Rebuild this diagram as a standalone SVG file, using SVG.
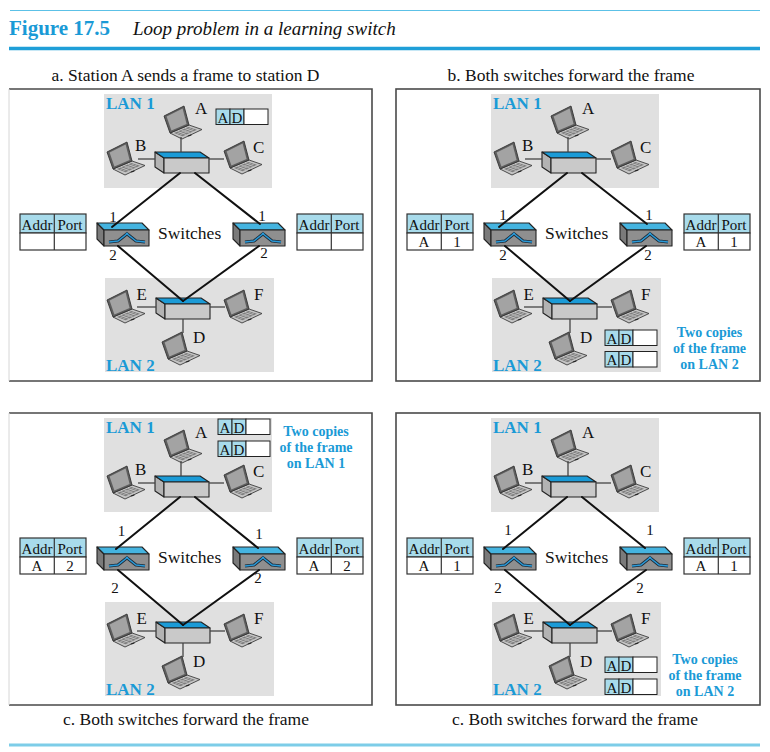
<svg xmlns="http://www.w3.org/2000/svg" xmlns:xlink="http://www.w3.org/1999/xlink" width="770" height="752" viewBox="0 0 770 752">
<style>
text{font-family:"Liberation Serif","Times New Roman",serif;fill:#111}
.lan{fill:#e0e0e0}
.lbl{font-size:17px}
.lanl{font-weight:bold;font-size:17px;fill:#1a9ad6}
.port{font-size:15px;text-anchor:middle}
.tt{font-size:15px;text-anchor:middle}
.ft{font-size:15px;text-anchor:middle}
.sw{font-size:17.5px}
.cap{font-size:17.5px;text-anchor:middle}
.note{font-weight:bold;font-size:14px;fill:#1a9ad6;text-anchor:middle}
.link{stroke:#111;stroke-width:2;fill:none;stroke-linecap:round}
.wire{stroke:#444;stroke-width:1.3;fill:none}
.thead{fill:#a8dbeb;stroke:#333;stroke-width:1.2}
.tbody{fill:#fff;stroke:#333;stroke-width:1.2}
.cell{fill:#a8dbeb;stroke:#222;stroke-width:1}
.blank{fill:#fff;stroke:#222;stroke-width:1}
.edge{stroke:#222;stroke-width:1.1;stroke-linejoin:round}
.box{fill:none;stroke:#4a4a4a;stroke-width:1.6}
.boxl{fill:none;stroke:#d6d6d6;stroke-width:1}
</style>
<defs>
<g id="laptop">
<polygon points="6,27 25,19 38,23.5 18,33" fill="#c4c4c4" stroke="#3c3c3c" stroke-width="0.9" stroke-linejoin="round"/>
<polygon points="10,27 24.5,21 33,23.8 18.5,30.2" fill="#7d7d7d"/>
<g stroke="#cfcfcf" stroke-width="0.6">
<line x1="12.8" y1="28.1" x2="27.3" y2="21.9"/>
<line x1="15.6" y1="29.1" x2="30.1" y2="22.9"/>
<line x1="13.6" y1="25.5" x2="22.1" y2="28.6"/>
<line x1="17.3" y1="24" x2="25.8" y2="27"/>
<line x1="20.9" y1="22.5" x2="29.4" y2="25.4"/>
</g>
<polygon points="23.5,29.8 26.5,28.5 27.8,29.2 24.8,30.6" fill="#222"/>
<polygon points="0,10 20,0 25,19 6,27" fill="#5e5e5e" stroke="#333" stroke-width="0.9" stroke-linejoin="round"/>
<polygon points="2.6,10.6 18.6,2.6 22.6,18 7.4,24.6" fill="#a3a3a3"/>
</g>
<g id="hub">
<polygon class="edge" points="-9,-6 0,0 0,15 -9,9" fill="#b3b3b3"/>
<polygon class="edge" points="-9,-6 36,-6 45,0 0,0" fill="#1b9bd7"/>
<rect class="edge" x="0" y="0" width="45" height="15" fill="#c9c9c9"/>
</g>
<g id="switch">
<polygon class="edge" points="-7,-7 0,0 0,16 -7,9" fill="#7a7a7a"/>
<polygon class="edge" points="-7,-7 38,-7 45,0 0,0" fill="#45b4e0"/>
<rect class="edge" x="0" y="0" width="45" height="16" fill="#8f8f8f"/>
<path d="M5,12 L14,11 L24,3 M41,12 L32,11 L22,3" fill="none" stroke="#1d2b38" stroke-width="3.2" stroke-linejoin="round"/>
<path d="M5,12 L14,11 L24,3 M41,12 L32,11 L22,3" fill="none" stroke="#2a9ad8" stroke-width="1.6" stroke-linejoin="round"/>
</g>
</defs>
<rect width="770" height="752" fill="#fff"/>

<g id="header">
<line x1="10" y1="10.5" x2="760" y2="10.5" stroke="#5cc1e7" stroke-width="1"/>
<text x="9" y="35" style="font-weight:bold;font-size:21px;fill:#1a9ad6">Figure 17.5</text>
<text x="133" y="35" style="font-style:italic;font-size:19px">Loop problem in a learning switch</text>
<line x1="9" y1="48.5" x2="760" y2="48.5" stroke="#1f9fd8" stroke-width="3.5"/>
</g>

<g id="captions">
<text class="cap" x="185.5" y="81">a. Station A sends a frame to station D</text>
<text class="cap" x="571" y="81">b. Both switches forward the frame</text>
<text class="cap" x="186" y="725">c. Both switches forward the frame</text>
<text class="cap" x="575" y="725">c. Both switches forward the frame</text>
</g>

<g id="frames">
<path class="box" d="M9,89 H372 V381 H9"/><path class="boxl" d="M9,89 V381"/>
<rect class="box" x="396" y="89" width="364" height="292"/>
<path class="box" d="M9,413 H372 V705 H9"/><path class="boxl" d="M9,413 V705"/>
<rect class="box" x="396" y="413" width="364" height="292"/>
</g>

<!-- Panel a -->
<g id="panel-a">
<g id="a-lan1"><rect class="lan" x="104" y="94" width="168" height="94"/><text class="lanl" x="106" y="109">LAN 1</text></g>
<g id="a-lan2"><rect class="lan" x="105" y="278" width="169" height="94"/><text class="lanl" x="106" y="371">LAN 2</text></g>
<g id="a-hub1"><use href="#hub" x="164" y="158"/></g>
<g id="a-hub2"><use href="#hub" x="165" y="304"/></g>
<g id="a-sw1"><use href="#switch" x="104" y="230"/></g>
<g id="a-sw2"><use href="#switch" x="240" y="230"/></g>
<text id="a-swlabel" class="sw" x="158" y="239">Switches</text>
<g id="a-A"><use href="#laptop" x="164" y="106"/><text class="lbl" x="195" y="114">A</text></g>
<g id="a-B"><use href="#laptop" x="107" y="142"/><text class="lbl" x="135" y="151">B</text></g>
<g id="a-C"><use href="#laptop" x="224" y="141"/><text class="lbl" x="253" y="152.5">C</text></g>
<g id="a-E"><use href="#laptop" x="107" y="290"/><text class="lbl" x="136.5" y="299.5">E</text></g>
<g id="a-F"><use href="#laptop" x="224" y="290"/><text class="lbl" x="254" y="300">F</text></g>
<g id="a-D"><use href="#laptop" x="162" y="332"/><text class="lbl" x="193" y="343">D</text></g>
<g id="a-tableL"><rect class="thead" x="20" y="214" width="66" height="19"/><rect class="tbody" x="20" y="233" width="66" height="17"/><line x1="54.3" y1="214" x2="54.3" y2="250" stroke="#333" stroke-width="1.2"/><text class="tt" x="37" y="229.5">Addr</text><text class="tt" x="70" y="229.5">Port</text></g>
<g id="a-tableR"><rect class="thead" x="297" y="214" width="66" height="19"/><rect class="tbody" x="297" y="233" width="66" height="17"/><line x1="331.3" y1="214" x2="331.3" y2="250" stroke="#333" stroke-width="1.2"/><text class="tt" x="314" y="229.5">Addr</text><text class="tt" x="347" y="229.5">Port</text></g>
<g id="a-frame"><rect class="cell" x="216" y="109" width="14" height="15.5"/><rect class="cell" x="230" y="109" width="14" height="15.5"/><rect class="blank" x="244" y="109" width="24" height="15.5"/><text class="ft" x="223" y="122.5">A</text><text class="ft" x="237" y="122.5">D</text></g>
<g id="a-links">
<line class="wire" x1="181" y1="137" x2="181" y2="152"/>
<line class="wire" x1="138" y1="159" x2="155" y2="159"/>
<line class="wire" x1="209" y1="159" x2="224" y2="159"/>
<line class="wire" x1="137" y1="307" x2="156" y2="307"/>
<line class="wire" x1="210" y1="307" x2="225" y2="307"/>
<line class="wire" x1="183" y1="319" x2="183" y2="333"/>
<line class="link" x1="180" y1="173" x2="112" y2="227"/>
<line class="link" x1="195" y1="173" x2="260" y2="224"/>
<line class="link" x1="118" y1="246" x2="183" y2="301"/>
<line class="link" x1="259" y1="246" x2="183" y2="301"/>
<text class="port" x="113" y="221.5">1</text><text class="port" x="113" y="260">2</text>
<text class="port" x="262" y="221">1</text><text class="port" x="264" y="258">2</text>
</g>
</g>

<!-- Panel b -->
<g id="panel-b" transform="translate(387,0)">
<g id="b-lan1"><rect class="lan" x="104" y="94" width="168" height="94"/><text class="lanl" x="106" y="109">LAN 1</text></g>
<g id="b-lan2"><rect class="lan" x="105" y="278" width="169" height="94"/><text class="lanl" x="106" y="371">LAN 2</text></g>
<g id="b-hub1"><use href="#hub" x="164" y="158"/></g>
<g id="b-hub2"><use href="#hub" x="165" y="304"/></g>
<g id="b-sw1"><use href="#switch" x="104" y="230"/></g>
<g id="b-sw2"><use href="#switch" x="240" y="230"/></g>
<text id="b-swlabel" class="sw" x="158" y="239">Switches</text>
<g id="b-A"><use href="#laptop" x="164" y="106"/><text class="lbl" x="195" y="114">A</text></g>
<g id="b-B"><use href="#laptop" x="107" y="142"/><text class="lbl" x="135" y="151">B</text></g>
<g id="b-C"><use href="#laptop" x="224" y="141"/><text class="lbl" x="253" y="152.5">C</text></g>
<g id="b-E"><use href="#laptop" x="107" y="290"/><text class="lbl" x="136.5" y="299.5">E</text></g>
<g id="b-F"><use href="#laptop" x="224" y="290"/><text class="lbl" x="254" y="300">F</text></g>
<g id="b-D"><use href="#laptop" x="162" y="332"/><text class="lbl" x="193" y="343">D</text></g>
<g id="b-tableL"><rect class="thead" x="20" y="214" width="66" height="19"/><rect class="tbody" x="20" y="233" width="66" height="17"/><line x1="54.3" y1="214" x2="54.3" y2="250" stroke="#333" stroke-width="1.2"/><text class="tt" x="37" y="229.5">Addr</text><text class="tt" x="70" y="229.5">Port</text><text class="tt" x="37" y="246.5">A</text><text class="tt" x="70" y="246.5">1</text></g>
<g id="b-tableR"><rect class="thead" x="297" y="214" width="66" height="19"/><rect class="tbody" x="297" y="233" width="66" height="17"/><line x1="331.3" y1="214" x2="331.3" y2="250" stroke="#333" stroke-width="1.2"/><text class="tt" x="314" y="229.5">Addr</text><text class="tt" x="347" y="229.5">Port</text><text class="tt" x="314" y="246.5">A</text><text class="tt" x="347" y="246.5">1</text></g>
<g id="b-frame1"><rect class="cell" x="218" y="330" width="14" height="15.5"/><rect class="cell" x="232" y="330" width="14" height="15.5"/><rect class="blank" x="246" y="330" width="24" height="15.5"/><text class="ft" x="225" y="343.5">A</text><text class="ft" x="239" y="343.5">D</text></g>
<g id="b-frame2"><rect class="cell" x="218" y="351.5" width="14" height="15.5"/><rect class="cell" x="232" y="351.5" width="14" height="15.5"/><rect class="blank" x="246" y="351.5" width="24" height="15.5"/><text class="ft" x="225" y="365">A</text><text class="ft" x="239" y="365">D</text></g>
<g id="b-note"><text class="note" x="322.5" y="336.5">Two copies</text><text class="note" x="322.5" y="352.5">of the frame</text><text class="note" x="322.5" y="368.5">on LAN 2</text></g>
<g id="b-links">
<line class="wire" x1="181" y1="137" x2="181" y2="152"/>
<line class="wire" x1="138" y1="159" x2="155" y2="159"/>
<line class="wire" x1="209" y1="159" x2="224" y2="159"/>
<line class="wire" x1="137" y1="307" x2="156" y2="307"/>
<line class="wire" x1="210" y1="307" x2="225" y2="307"/>
<line class="wire" x1="183" y1="319" x2="183" y2="333"/>
<line class="link" x1="180" y1="173" x2="112" y2="227"/>
<line class="link" x1="195" y1="173" x2="260" y2="224"/>
<line class="link" x1="118" y1="246" x2="183" y2="301"/>
<line class="link" x1="259" y1="246" x2="183" y2="301"/>
<text class="port" x="116" y="220">1</text><text class="port" x="116" y="260">2</text>
<text class="port" x="262" y="220">1</text><text class="port" x="261" y="260">2</text>
</g>
</g>

<!-- Panel c -->
<g id="panel-c" transform="translate(0,324)">
<g id="c-lan1"><rect class="lan" x="104" y="94" width="168" height="94"/><text class="lanl" x="106" y="109">LAN 1</text></g>
<g id="c-lan2"><rect class="lan" x="105" y="278" width="169" height="94"/><text class="lanl" x="106" y="371">LAN 2</text></g>
<g id="c-hub1"><use href="#hub" x="164" y="158"/></g>
<g id="c-hub2"><use href="#hub" x="165" y="304"/></g>
<g id="c-sw1"><use href="#switch" x="104" y="230"/></g>
<g id="c-sw2"><use href="#switch" x="240" y="230"/></g>
<text id="c-swlabel" class="sw" x="158" y="239">Switches</text>
<g id="c-A"><use href="#laptop" x="164" y="106"/><text class="lbl" x="195" y="114">A</text></g>
<g id="c-B"><use href="#laptop" x="107" y="142"/><text class="lbl" x="135" y="151">B</text></g>
<g id="c-C"><use href="#laptop" x="224" y="141"/><text class="lbl" x="253" y="152.5">C</text></g>
<g id="c-E"><use href="#laptop" x="107" y="290"/><text class="lbl" x="136.5" y="299.5">E</text></g>
<g id="c-F"><use href="#laptop" x="224" y="290"/><text class="lbl" x="254" y="300">F</text></g>
<g id="c-D"><use href="#laptop" x="162" y="332"/><text class="lbl" x="193" y="343">D</text></g>
<g id="c-tableL"><rect class="thead" x="20" y="214" width="66" height="19"/><rect class="tbody" x="20" y="233" width="66" height="17"/><line x1="54.3" y1="214" x2="54.3" y2="250" stroke="#333" stroke-width="1.2"/><text class="tt" x="37" y="229.5">Addr</text><text class="tt" x="70" y="229.5">Port</text><text class="tt" x="37" y="246.5">A</text><text class="tt" x="70" y="246.5">2</text></g>
<g id="c-tableR"><rect class="thead" x="297" y="214" width="66" height="19"/><rect class="tbody" x="297" y="233" width="66" height="17"/><line x1="331.3" y1="214" x2="331.3" y2="250" stroke="#333" stroke-width="1.2"/><text class="tt" x="314" y="229.5">Addr</text><text class="tt" x="347" y="229.5">Port</text><text class="tt" x="314" y="246.5">A</text><text class="tt" x="347" y="246.5">2</text></g>
<g id="c-frame1"><rect class="cell" x="218" y="95" width="14" height="15.5"/><rect class="cell" x="232" y="95" width="14" height="15.5"/><rect class="blank" x="246" y="95" width="24" height="15.5"/><text class="ft" x="225" y="108.5">A</text><text class="ft" x="239" y="108.5">D</text></g>
<g id="c-frame2"><rect class="cell" x="218" y="117" width="14" height="15.5"/><rect class="cell" x="232" y="117" width="14" height="15.5"/><rect class="blank" x="246" y="117" width="24" height="15.5"/><text class="ft" x="225" y="130.5">A</text><text class="ft" x="239" y="130.5">D</text></g>
<g id="c-note"><text class="note" x="316" y="112">Two copies</text><text class="note" x="316" y="128">of the frame</text><text class="note" x="316" y="144">on LAN 1</text></g>
<g id="c-links">
<line class="wire" x1="181" y1="137" x2="181" y2="152"/>
<line class="wire" x1="138" y1="159" x2="155" y2="159"/>
<line class="wire" x1="209" y1="159" x2="224" y2="159"/>
<line class="wire" x1="137" y1="307" x2="156" y2="307"/>
<line class="wire" x1="210" y1="307" x2="225" y2="307"/>
<line class="wire" x1="183" y1="319" x2="183" y2="333"/>
<line class="link" x1="180" y1="173" x2="116" y2="225"/>
<line class="link" x1="195" y1="173" x2="258" y2="224"/>
<line class="link" x1="118" y1="246" x2="183" y2="301"/>
<line class="link" x1="259" y1="246" x2="183" y2="301"/>
<text class="port" x="121.5" y="212">1</text><text class="port" x="115" y="269">2</text>
<text class="port" x="259" y="215">1</text><text class="port" x="258" y="259">2</text>
</g>
</g>

<!-- Panel d -->
<g id="panel-d" transform="translate(387,324)">
<g id="d-lan1"><rect class="lan" x="104" y="94" width="168" height="94"/><text class="lanl" x="106" y="109">LAN 1</text></g>
<g id="d-lan2"><rect class="lan" x="105" y="278" width="169" height="94"/><text class="lanl" x="106" y="371">LAN 2</text></g>
<g id="d-hub1"><use href="#hub" x="164" y="158"/></g>
<g id="d-hub2"><use href="#hub" x="165" y="304"/></g>
<g id="d-sw1"><use href="#switch" x="104" y="230"/></g>
<g id="d-sw2"><use href="#switch" x="240" y="230"/></g>
<text id="d-swlabel" class="sw" x="158" y="239">Switches</text>
<g id="d-A"><use href="#laptop" x="164" y="106"/><text class="lbl" x="195" y="114">A</text></g>
<g id="d-B"><use href="#laptop" x="107" y="142"/><text class="lbl" x="135" y="151">B</text></g>
<g id="d-C"><use href="#laptop" x="224" y="141"/><text class="lbl" x="253" y="152.5">C</text></g>
<g id="d-E"><use href="#laptop" x="107" y="290"/><text class="lbl" x="136.5" y="299.5">E</text></g>
<g id="d-F"><use href="#laptop" x="224" y="290"/><text class="lbl" x="254" y="300">F</text></g>
<g id="d-D"><use href="#laptop" x="162" y="332"/><text class="lbl" x="193" y="343">D</text></g>
<g id="d-tableL"><rect class="thead" x="20" y="214" width="66" height="19"/><rect class="tbody" x="20" y="233" width="66" height="17"/><line x1="54.3" y1="214" x2="54.3" y2="250" stroke="#333" stroke-width="1.2"/><text class="tt" x="37" y="229.5">Addr</text><text class="tt" x="70" y="229.5">Port</text><text class="tt" x="37" y="246.5">A</text><text class="tt" x="70" y="246.5">1</text></g>
<g id="d-tableR"><rect class="thead" x="297" y="214" width="66" height="19"/><rect class="tbody" x="297" y="233" width="66" height="17"/><line x1="331.3" y1="214" x2="331.3" y2="250" stroke="#333" stroke-width="1.2"/><text class="tt" x="314" y="229.5">Addr</text><text class="tt" x="347" y="229.5">Port</text><text class="tt" x="314" y="246.5">A</text><text class="tt" x="347" y="246.5">1</text></g>
<g id="d-frame1"><rect class="cell" x="218" y="333" width="14" height="15.5"/><rect class="cell" x="232" y="333" width="14" height="15.5"/><rect class="blank" x="246" y="333" width="24" height="15.5"/><text class="ft" x="225" y="346.5">A</text><text class="ft" x="239" y="346.5">D</text></g>
<g id="d-frame2"><rect class="cell" x="218" y="355" width="14" height="15.5"/><rect class="cell" x="232" y="355" width="14" height="15.5"/><rect class="blank" x="246" y="355" width="24" height="15.5"/><text class="ft" x="225" y="368.5">A</text><text class="ft" x="239" y="368.5">D</text></g>
<g id="d-note"><text class="note" x="318" y="340">Two copies</text><text class="note" x="318" y="356">of the frame</text><text class="note" x="318" y="372">on LAN 2</text></g>
<g id="d-links">
<line class="wire" x1="181" y1="137" x2="181" y2="152"/>
<line class="wire" x1="138" y1="159" x2="155" y2="159"/>
<line class="wire" x1="209" y1="159" x2="224" y2="159"/>
<line class="wire" x1="137" y1="307" x2="156" y2="307"/>
<line class="wire" x1="210" y1="307" x2="225" y2="307"/>
<line class="wire" x1="183" y1="319" x2="183" y2="333"/>
<line class="link" x1="180" y1="173" x2="116" y2="225"/>
<line class="link" x1="195" y1="173" x2="258" y2="224"/>
<line class="link" x1="118" y1="246" x2="183" y2="301"/>
<line class="link" x1="259" y1="246" x2="183" y2="301"/>
<text class="port" x="121" y="211">1</text><text class="port" x="111" y="269">2</text>
<text class="port" x="263" y="211">1</text><text class="port" x="253" y="269">2</text>
</g>
</g>

<line id="footer-rule" x1="9" y1="745" x2="760" y2="745" stroke="#7dcde8" stroke-width="3"/>
</svg>
